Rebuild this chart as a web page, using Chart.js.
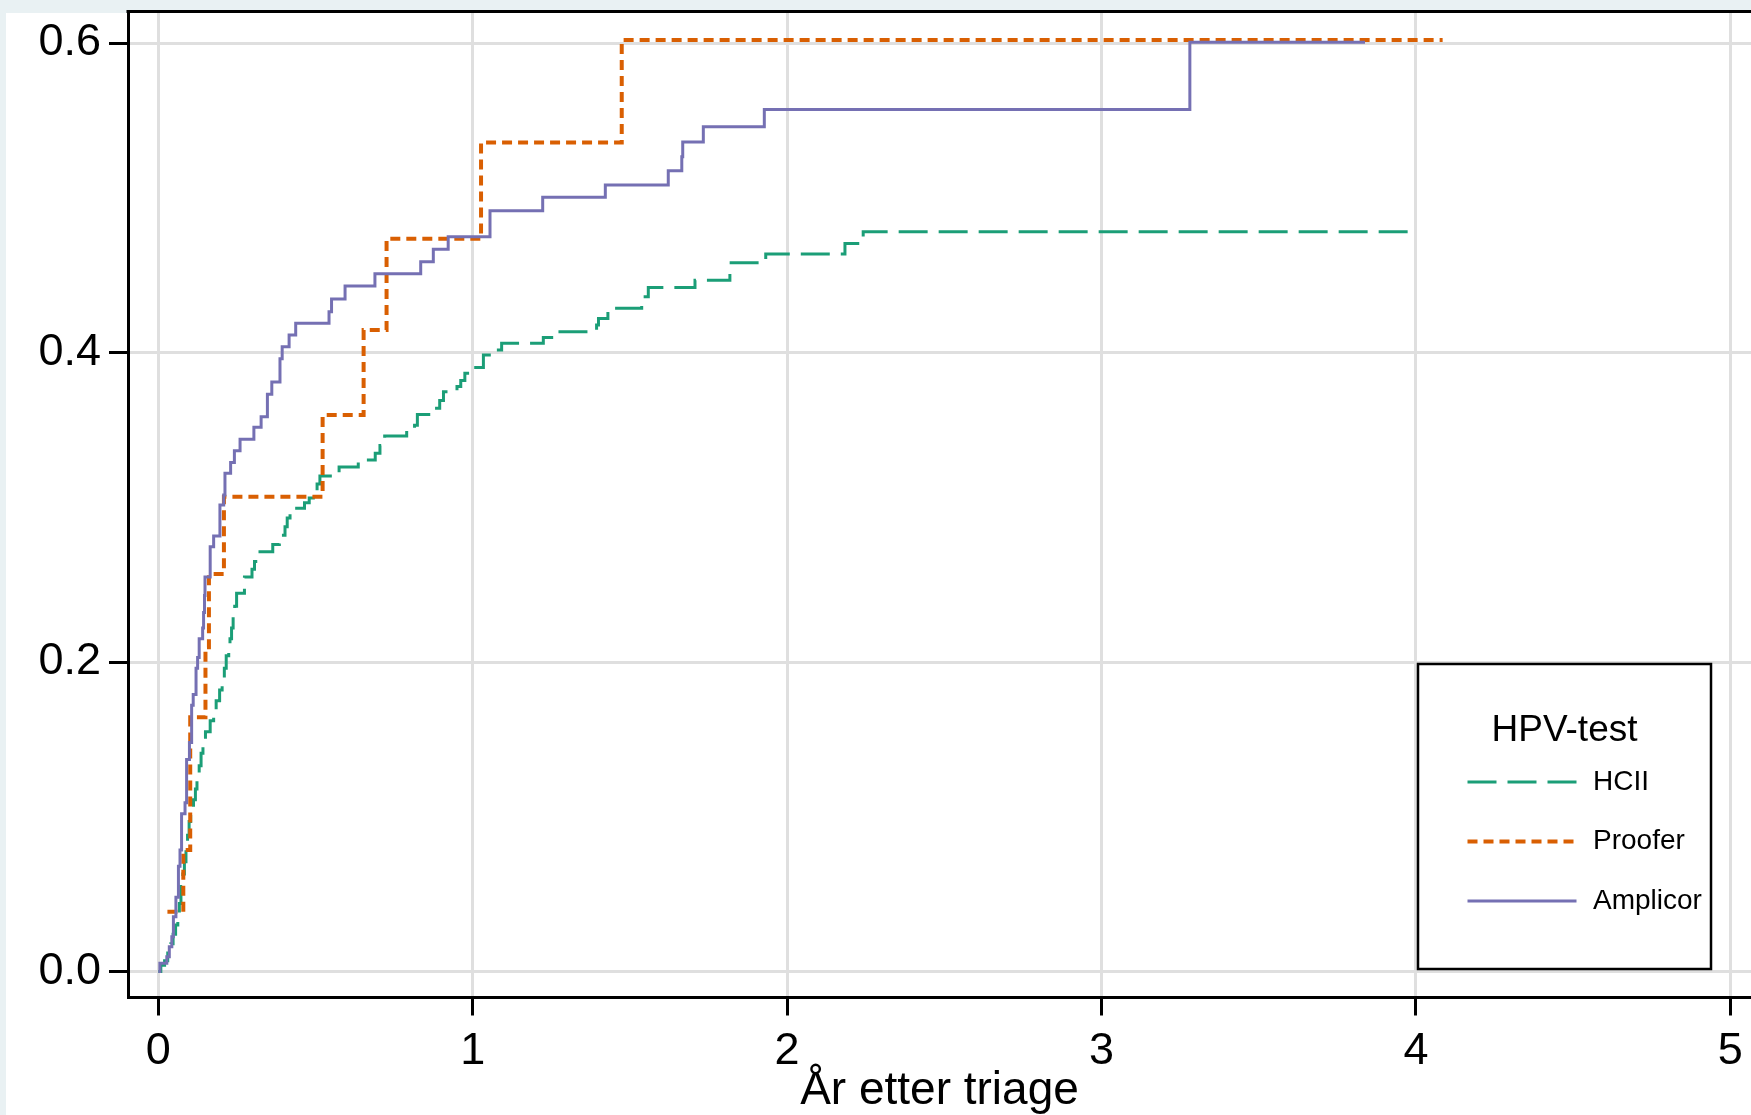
<!DOCTYPE html>
<html>
<head>
<meta charset="utf-8">
<title>HPV-test</title>
<script src="https://cdn.jsdelivr.net/npm/chart.js@4/dist/chart.umd.min.js"></script>
<style>
  html, body { margin: 0; padding: 0; background: #e9f1f3; overflow: hidden; }
  canvas { display: block; }
</style>
</head>
<body>
<canvas id="kmChart" width="1751" height="1115"></canvas>
<script>
// tid i år etter triage, og kumulativ andel etter hvert trinn
const hciiTimes = [0, 0.008, 0.02, 0.03, 0.04, 0.047, 0.055, 0.062, 0.067, 0.072, 0.078, 0.083, 0.088, 0.093, 0.098, 0.103, 0.112, 0.118, 0.123, 0.13, 0.136, 0.142, 0.15, 0.165, 0.176, 0.184, 0.195, 0.203, 0.21, 0.216, 0.224, 0.228, 0.233, 0.238, 0.243, 0.249, 0.274, 0.298, 0.306, 0.318, 0.364, 0.385, 0.403, 0.41, 0.419, 0.465, 0.48, 0.493, 0.505, 0.514, 0.575, 0.636, 0.69, 0.705, 0.72, 0.79, 0.815, 0.824, 0.88, 0.895, 0.907, 0.95, 0.962, 0.975, 0.997, 1.034, 1.064, 1.092, 1.2246, 1.272, 1.394, 1.40, 1.43, 1.5375, 1.5585, 1.707, 1.818, 1.822, 1.932, 2.184, 2.242, 4.0];
const hciiValues = [0, 0.004, 0.007, 0.012, 0.018, 0.024, 0.03, 0.036, 0.044, 0.055, 0.063, 0.071, 0.079, 0.088, 0.097, 0.105, 0.111, 0.118, 0.126, 0.133, 0.141, 0.148, 0.155, 0.162, 0.168, 0.175, 0.182, 0.189, 0.196, 0.204, 0.21, 0.215, 0.222, 0.229, 0.236, 0.2444, 0.255, 0.26, 0.265, 0.2713, 0.276, 0.282, 0.2874, 0.293, 0.2993, 0.303, 0.306, 0.31, 0.315, 0.3202, 0.326, 0.3305, 0.335, 0.34, 0.346, 0.3495, 0.353, 0.36, 0.364, 0.369, 0.3747, 0.378, 0.382, 0.3866, 0.3904, 0.3984, 0.4016, 0.406, 0.4098, 0.4135, 0.4178, 0.422, 0.4286, 0.436, 0.442, 0.4468, 0.4522, 0.458, 0.4637, 0.4705, 0.478, 0.478];

const prooferTimes = [0.029, 0.0795, 0.1015, 0.15, 0.161, 0.2087, 0.5226, 0.653, 0.726, 1.0265, 1.474, 4.085];
const prooferValues = [0.0386, 0.0785, 0.1643, 0.2095, 0.2569, 0.3068, 0.3596, 0.4145, 0.4736, 0.5358, 0.602, 0.602];

const amplicorTimes = [0, 0.005, 0.027, 0.035, 0.043, 0.048, 0.056, 0.064, 0.069, 0.074, 0.085, 0.09, 0.099, 0.106, 0.111, 0.12, 0.125, 0.13, 0.141, 0.144, 0.147, 0.1485, 0.165, 0.176, 0.196, 0.208, 0.212, 0.23, 0.242, 0.26, 0.304, 0.327, 0.347, 0.361, 0.387, 0.394, 0.416, 0.437, 0.543, 0.551, 0.594, 0.689, 0.8346, 0.8747, 0.922, 1.055, 1.2226, 1.4218, 1.622, 1.665, 1.668, 1.7335, 1.9275, 3.281, 3.838];
const amplicorValues = [0, 0.0053, 0.0096, 0.016, 0.0225, 0.0354, 0.048, 0.068, 0.0785, 0.102, 0.109, 0.137, 0.148, 0.172, 0.179, 0.196, 0.203, 0.215, 0.222, 0.232, 0.243, 0.255, 0.2745, 0.2814, 0.3015, 0.308, 0.322, 0.329, 0.3366, 0.344, 0.3517, 0.3585, 0.373, 0.381, 0.396, 0.4037, 0.4113, 0.4189, 0.4264, 0.4346, 0.443, 0.451, 0.4587, 0.4667, 0.4748, 0.4917, 0.5003, 0.5082, 0.5175, 0.5265, 0.536, 0.546, 0.5571, 0.6005, 0.6005];

const seriesLabels = ["HCII", "Proofer", "Amplicor"];
const xTicks = [0, 1, 2, 3, 4, 5];
const yTicks = [0, 0.2, 0.4, 0.6];
const legendTitle = "HPV-test";
const xTitle = "År etter triage";

const fontFamily = "'Liberation Sans', Arial, Helvetica, sans-serif";
const gridColor = "#dfdfdf";

const toPoints = (t, v) => t.map((x, i) => ({ x: x, y: v[i] }));

// lys bakgrunn med hvitt panel
const panelPlugin = {
  id: "panel",
  beforeDraw(chart) {
    const ctx = chart.ctx;
    ctx.save();
    ctx.fillStyle = "#e9f1f3";
    ctx.fillRect(0, 0, chart.width, chart.height);
    ctx.fillStyle = "#ffffff";
    ctx.fillRect(6, 13, chart.width - 6, chart.height - 13);
    ctx.restore();
  },
};

// øverste kant av plottområdet
const frameTopPlugin = {
  id: "frameTop",
  afterDatasetsDraw(chart) {
    const { ctx, chartArea } = chart;
    ctx.save();
    ctx.strokeStyle = "#000";
    ctx.lineWidth = 3;
    ctx.beginPath();
    ctx.moveTo(chartArea.left - 1.5, chartArea.top);
    ctx.lineTo(chartArea.right, chartArea.top);
    ctx.stroke();
    ctx.restore();
  },
};

// forklaring i boks nede til høyre
const boxLegendPlugin = {
  id: "boxLegend",
  afterDraw(chart) {
    const { ctx, chartArea } = chart;
    const right = chartArea.right - 40;
    const bottom = chartArea.bottom - 28.5;
    const w = 293, h = 305;
    const left = right - w, top = bottom - h;

    ctx.save();
    ctx.fillStyle = "#ffffff";
    ctx.fillRect(left, top, w, h);
    ctx.strokeStyle = "#000";
    ctx.lineWidth = 2.5;
    ctx.strokeRect(left, top, w, h);

    ctx.fillStyle = "#000";
    ctx.font = "37px " + fontFamily;
    ctx.textAlign = "center";
    ctx.textBaseline = "alphabetic";
    ctx.fillText(legendTitle, left + w / 2, top + 77);

    ctx.font = "28px " + fontFamily;
    ctx.textAlign = "left";
    ctx.textBaseline = "middle";
    chart.data.datasets.forEach((ds, i) => {
      const y = top + 118 + i * 59.5;
      ctx.strokeStyle = ds.borderColor;
      ctx.lineWidth = ds.borderWidth;
      ctx.setLineDash(ds.borderDash || []);
      ctx.beginPath();
      ctx.moveTo(left + 49.5, y);
      ctx.lineTo(left + 158.5, y);
      ctx.stroke();
      ctx.setLineDash([]);
      ctx.fillStyle = "#000";
      ctx.fillText(ds.label, left + 175, y);
    });
    ctx.restore();
  },
};

const ctx = document.getElementById("kmChart").getContext("2d");
const kmChart = new Chart(ctx, {
  type: "line",
  data: {
    datasets: [
      {
        label: seriesLabels[0],
        data: toPoints(hciiTimes, hciiValues),
        borderColor: "#1b9e77",
        borderWidth: 3,
        borderDash: [29, 11],
        order: 2,
      },
      {
        label: seriesLabels[1],
        data: toPoints(prooferTimes, prooferValues),
        borderColor: "#d95f02",
        borderWidth: 4,
        borderDash: [10, 6],
        order: 1,
      },
      {
        label: seriesLabels[2],
        data: toPoints(amplicorTimes, amplicorValues),
        borderColor: "#7570b3",
        borderWidth: 3,
        order: 0,
      },
    ],
  },
  options: {
    responsive: false,
    animation: false,
    devicePixelRatio: 1,
    layout: { padding: { top: 11.5, right: 0, bottom: 0, left: 0 } },
    elements: {
      line: { stepped: true, tension: 0, fill: false, borderCapStyle: "butt" },
      point: { radius: 0 },
    },
    plugins: {
      legend: { display: false },
      tooltip: { enabled: false },
    },
    scales: {
      x: {
        type: "linear",
        min: -0.0964,
        max: 5.0658,
        afterBuildTicks: (s) => { s.ticks = xTicks.map((v) => ({ value: v })); },
        afterFit: (s) => { s.height = 117.5; s.paddingLeft = 0; s.paddingRight = 0; },
        grid: { color: gridColor, lineWidth: 3, tickColor: "#000", tickWidth: 3, tickLength: 18 },
        border: { display: true, color: "#000", width: 3 },
        ticks: {
          color: "#000",
          font: { family: fontFamily, size: 45 },
          padding: 9,
          maxRotation: 0,
          autoSkip: false,
          callback: (v) => String(v),
        },
        title: {
          display: true,
          text: xTitle,
          color: "#000",
          font: { family: fontFamily, size: 46, lineHeight: 1.02 },
          padding: { top: 0, bottom: 0 },
        },
      },
      y: {
        type: "linear",
        min: -0.0168,
        max: 0.6204,
        afterBuildTicks: (s) => { s.ticks = yTicks.map((v) => ({ value: v })); },
        afterFit: (s) => { s.width = 128; s.paddingTop = 0; s.paddingBottom = 0; },
        grid: { color: gridColor, lineWidth: 3, tickColor: "#000", tickWidth: 3, tickLength: 19 },
        border: { display: true, color: "#000", width: 3 },
        ticks: {
          color: "#000",
          font: { family: fontFamily, size: 45 },
          padding: 8,
          callback: (v) => v.toFixed(1),
        },
      },
    },
  },
  plugins: [panelPlugin, frameTopPlugin, boxLegendPlugin],
});
</script>
</body>
</html>
